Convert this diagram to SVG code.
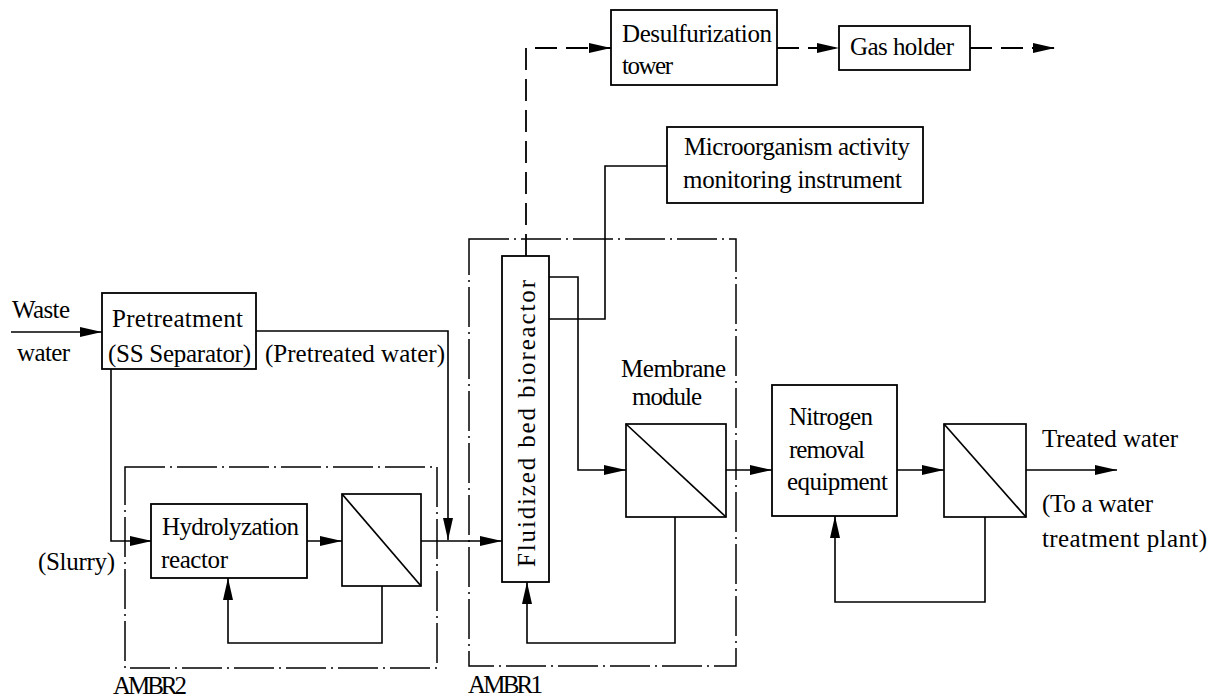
<svg xmlns="http://www.w3.org/2000/svg" width="1210" height="698" viewBox="0 0 1210 698">
<style>
.box{fill:#fff;stroke:#000;stroke-width:1.8}
.mem{fill:none;stroke:#000;stroke-width:1.7}
.grp{fill:none;stroke:#000;stroke-width:1.5;stroke-dasharray:40 5 2 5}
.ln{fill:none;stroke:#000;stroke-width:1.6}
.dash{fill:none;stroke:#000;stroke-width:1.8;stroke-dasharray:22 9}
</style>
<defs>
<marker id="ah" markerUnits="userSpaceOnUse" markerWidth="22" markerHeight="10" refX="22" refY="5" orient="auto">
<path d="M0,0 L22,5 L0,10 z" fill="#000"/>
</marker>
</defs>
<rect width="1210" height="698" fill="#fff"/>
<g font-family="Liberation Serif" font-size="25" fill="#000">
<g id="ambr2"><rect class="grp" x="125" y="467" width="312" height="201"/><text x="113" y="694" textLength="74">AMBR2</text></g>
<g id="ambr1"><rect class="grp" x="469" y="239" width="267" height="427"/><text x="468" y="693" textLength="75">AMBR1</text></g>
<g id="connectors">
<path class="ln" d="M11,332 H102" marker-end="url(#ah)"/>
<path class="ln" d="M256,331 H448 V540" marker-end="url(#ah)"/>
<path class="ln" d="M111,369 V541 H152" marker-end="url(#ah)"/>
<path class="ln" d="M307,541 H342" marker-end="url(#ah)"/>
<path class="ln" d="M382,586 V643 H228 V578" marker-end="url(#ah)"/>
<path class="ln" d="M421,541 H502" marker-end="url(#ah)"/>
<path class="dash" d="M526,256 V48 H611" marker-end="url(#ah)"/>
<path class="dash" d="M777,48 H839" marker-end="url(#ah)"/>
<path class="dash" d="M970,48 H1055" marker-end="url(#ah)"/>
<path class="ln" d="M549,277 H578 V470 H626" marker-end="url(#ah)"/>
<path class="ln" d="M549,319 H605 V166 H667"/>
<path class="ln" d="M675,517 V643 H527 V582" marker-end="url(#ah)"/>
<path class="ln" d="M726,470 H772" marker-end="url(#ah)"/>
<path class="ln" d="M897,470 H944" marker-end="url(#ah)"/>
<path class="ln" d="M985,517 V602 H835 V516" marker-end="url(#ah)"/>
<path class="ln" d="M1026,470 H1117" marker-end="url(#ah)"/>
</g>
<g id="wastewater-label"><text x="12" y="318" textLength="58">Waste</text><text x="17" y="361" textLength="53">water</text></g>
<g id="pretreatment"><rect class="box" x="102" y="293" width="154" height="76"/><text x="112" y="327" textLength="131">Pretreatment</text><text x="108" y="362" textLength="143">(SS Separator)</text></g>
<g id="pretreated-label"><text x="265" y="362" textLength="180">(Pretreated water)</text></g>
<g id="slurry-label"><text x="38" y="570" textLength="77">(Slurry)</text></g>
<g id="hydrolyzation"><rect class="box" x="151" y="504" width="156" height="74"/><text x="162" y="535" textLength="137">Hydrolyzation</text><text x="161" y="568" textLength="67">reactor</text></g>
<g id="membrane1"><rect class="mem" x="342" y="494" width="79" height="92"/><line class="mem" x1="342" y1="494" x2="421" y2="586"/></g>
<g id="fluidized-bed"><rect class="box" x="502" y="256" width="47" height="326"/><text transform="translate(535,567) rotate(-90)" textLength="287">Fluidized bed bioreactor</text></g>
<g id="membrane-module"><rect class="mem" x="626" y="424" width="100" height="93"/><line class="mem" x1="626" y1="424" x2="726" y2="517"/><text x="621" y="377" textLength="105">Membrane</text><text x="632" y="405" textLength="70">module</text></g>
<g id="monitor"><rect class="box" x="667" y="127" width="256" height="76"/><text x="684" y="155" textLength="226">Microorganism activity</text><text x="683" y="188" textLength="219">monitoring instrument</text></g>
<g id="desulfurization"><rect class="box" x="611" y="10" width="166" height="75"/><text x="622" y="42" textLength="150">Desulfurization</text><text x="622" y="74" textLength="51">tower</text></g>
<g id="gas-holder"><rect class="box" x="839" y="26" width="131" height="44"/><text x="850" y="55" textLength="104">Gas holder</text></g>
<g id="nitrogen"><rect class="box" x="772" y="385" width="125" height="131"/><text x="789" y="425" textLength="84">Nitrogen</text><text x="789" y="458" textLength="76">removal</text><text x="787" y="490" textLength="101">equipment</text></g>
<g id="membrane2"><rect class="mem" x="944" y="424" width="82" height="93"/><line class="mem" x1="944" y1="424" x2="1026" y2="517"/></g>
<g id="treated-label"><text x="1042" y="447" textLength="136">Treated water</text><text x="1042" y="512" textLength="111">(To a water</text><text x="1042" y="547" textLength="165">treatment plant)</text></g>
</g>
</svg>
